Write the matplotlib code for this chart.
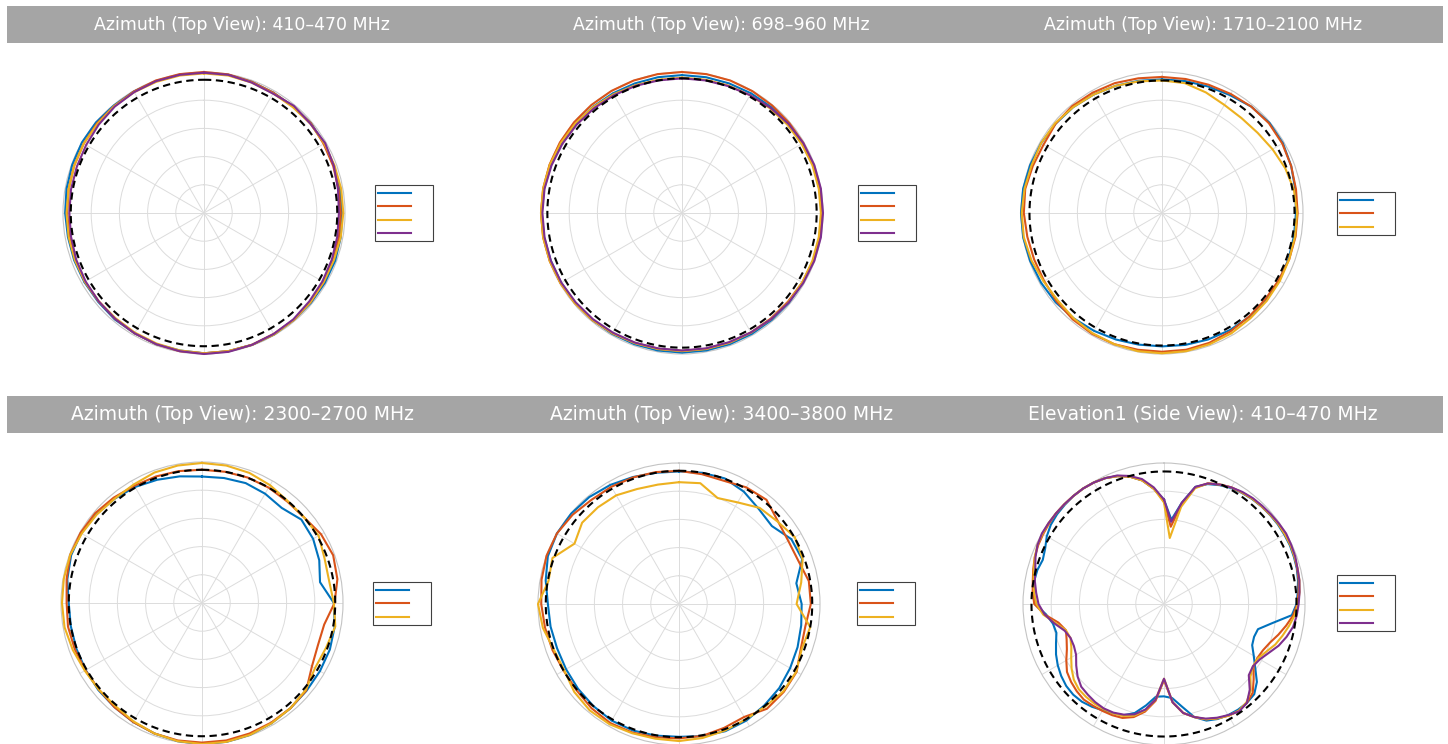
import numpy as np
import matplotlib
matplotlib.use("Agg")
import matplotlib.pyplot as plt
from matplotlib.lines import Line2D
from matplotlib.patches import Rectangle

# ---------------------------------------------------------------- data
TITLES = [
    "Azimuth (Top View): 410–470 MHz",
    "Azimuth (Top View): 698–960 MHz",
    "Azimuth (Top View): 1710–2100 MHz",
    "Azimuth (Top View): 2300–2700 MHz",
    "Azimuth (Top View): 3400–3800 MHz",
    "Elevation1 (Side View): 410–470 MHz",
]

# angles in degrees, clockwise from the top
ANG10 = list(range(0, 360, 10))
ANG5 = list(range(0, 360, 5))

# normalised pattern level of the dashed reference circle per panel
REF_LEVEL = [0.945, 0.955, 0.940, 0.945, 0.945, 0.940]

P1_BLUE = [0.995, 0.995, 0.990, 0.985, 0.985, 0.990, 0.985, 0.980, 0.978,
           0.980, 0.985, 0.990, 0.990, 0.990, 0.990, 0.995, 0.995, 0.995,
           0.995, 0.990, 0.990, 0.985, 0.985, 0.980, 0.980, 0.980, 0.980,
           0.985, 0.990, 0.995, 1.000, 1.000, 0.995, 0.995, 0.995, 0.995]
P1_ORANGE = [1.000, 0.998, 0.990, 0.985, 0.985, 0.990, 0.980, 0.975, 0.970,
             0.970, 0.972, 0.975, 0.980, 0.985, 0.990, 0.990, 0.995, 0.995,
             0.995, 0.995, 0.990, 0.985, 0.980, 0.975, 0.975, 0.970, 0.970,
             0.970, 0.975, 0.980, 0.985, 0.990, 0.990, 0.995, 1.000, 1.000]
P1_YELLOW = [0.990, 0.990, 0.985, 0.980, 0.980, 0.985, 0.985, 0.985, 0.988,
             0.988, 0.985, 0.980, 0.980, 0.985, 0.990, 0.995, 0.995, 0.995,
             0.995, 0.990, 0.985, 0.980, 0.975, 0.975, 0.975, 0.975, 0.975,
             0.975, 0.975, 0.980, 0.985, 0.985, 0.990, 0.990, 0.990, 0.990]
P1_PURPLE = [0.995, 0.995, 0.985, 0.978, 0.992, 0.985, 0.992, 0.980, 0.965,
             0.957, 0.960, 0.965, 0.970, 0.975, 0.985, 0.990, 0.995, 1.000,
             1.000, 0.995, 0.990, 0.985, 0.980, 0.975, 0.970, 0.965, 0.958,
             0.955, 0.958, 0.960, 0.965, 0.975, 0.985, 0.990, 0.995, 0.995]

P2_BLUE = [0.978, 0.978, 0.978, 0.980, 0.982, 0.985, 0.988, 0.990, 0.990,
           0.990, 0.990, 0.990, 0.990, 0.990, 0.990, 0.990, 0.990, 0.990,
           0.990, 0.990, 0.990, 0.990, 0.990, 0.990, 0.990, 0.990, 0.993,
           0.995, 0.993, 0.990, 0.988, 0.985, 0.983, 0.980, 0.978, 0.978]
P2_ORANGE = [1.000, 1.000, 1.000, 0.998, 0.995, 0.993, 0.993, 0.993, 0.995,
             0.995, 0.993, 0.990, 0.985, 0.980, 0.978, 0.978, 0.978, 0.978,
             0.978, 0.978, 0.980, 0.985, 0.990, 0.993, 0.995, 0.998, 1.000,
             1.000, 1.000, 1.000, 1.000, 1.000, 1.000, 1.000, 1.000, 1.000]
P2_YELLOW = [0.960, 0.960, 0.962, 0.965, 0.970, 0.975, 0.980, 0.985, 0.985,
             0.985, 0.985, 0.985, 0.985, 0.985, 0.983, 0.980, 0.980, 0.980,
             0.980, 0.980, 0.982, 0.985, 0.990, 0.993, 0.995, 0.998, 1.000,
             1.000, 1.000, 0.998, 0.993, 0.988, 0.980, 0.972, 0.965, 0.960]
P2_PURPLE = [0.955, 0.955, 0.958, 0.965, 0.975, 0.985, 0.993, 0.998, 1.000,
             1.000, 1.000, 0.998, 0.993, 0.988, 0.983, 0.978, 0.975, 0.975,
             0.975, 0.975, 0.978, 0.980, 0.983, 0.985, 0.988, 0.990, 0.990,
             0.990, 0.990, 0.985, 0.980, 0.975, 0.970, 0.965, 0.960, 0.955]

P3_BLUE = [0.948, 0.950, 0.955, 0.965, 0.985, 0.995, 0.990, 0.975, 0.960,
           0.950, 0.950, 0.955, 0.960, 0.962, 0.962, 0.960, 0.955, 0.950,
           0.946, 0.948, 0.955, 0.965, 0.975, 0.985, 0.990, 0.995, 1.000,
           1.000, 1.000, 0.995, 0.990, 0.985, 0.980, 0.970, 0.960, 0.952]
P3_ORANGE = [0.965, 0.965, 0.968, 0.975, 0.985, 0.990, 0.985, 0.975, 0.965,
             0.962, 0.962, 0.960, 0.955, 0.955, 0.960, 0.970, 0.980, 0.985,
             0.984, 0.985, 0.990, 0.990, 0.985, 0.975, 0.965, 0.965, 0.970,
             0.980, 0.985, 0.975, 0.970, 0.985, 0.990, 0.985, 0.980, 0.970]
P3_YELLOW = [0.940, 0.935, 0.910, 0.885, 0.878, 0.885, 0.905, 0.930, 0.950,
             0.958, 0.958, 0.960, 0.965, 0.970, 0.975, 0.985, 0.990, 0.995,
             0.995, 0.995, 0.990, 0.985, 0.975, 0.965, 0.970, 0.985, 0.995,
             0.995, 0.990, 0.985, 0.990, 0.990, 0.980, 0.970, 0.960, 0.948]

P4_BLUE = [0.897, 0.900, 0.905, 0.895, 0.880, 0.920, 0.910, 0.885, 0.850,
           0.935, 0.956, 0.965, 0.966, 0.968, 0.975, 0.985, 0.995, 1.000,
           1.000, 0.995, 0.985, 0.975, 0.965, 0.960, 0.952, 0.948, 0.945,
           0.945, 0.970, 0.988, 0.990, 0.980, 0.965, 0.950, 0.930, 0.912]
P4_ORANGE = [0.945, 0.945, 0.947, 0.945, 0.940, 0.945, 0.975, 0.990, 0.975,
             0.940, 0.880, 0.875, 0.900, 0.965, 0.975, 0.980, 0.985, 0.990,
             0.990, 0.990, 0.985, 0.975, 0.965, 0.955, 0.955, 0.960, 0.965,
             0.960, 0.975, 0.995, 0.995, 0.990, 0.975, 0.960, 0.955, 0.950]
P4_YELLOW = [0.993, 0.990, 0.982, 0.965, 0.945, 0.945, 0.955, 0.925, 0.915,
             0.935, 0.960, 0.935, 0.925, 0.960, 0.975, 0.985, 0.995, 1.000,
             1.000, 0.995, 0.985, 0.970, 0.955, 0.955, 0.960, 0.975, 0.990,
             0.993, 0.995, 0.995, 0.985, 0.975, 0.965, 0.970, 0.985, 0.990]

P5_BLUE = [0.940, 0.945, 0.948, 0.920, 0.880, 0.860, 0.920, 0.930, 0.845,
           0.870, 0.880, 0.895, 0.910, 0.928, 0.940, 0.955, 0.960, 0.952,
           0.942, 0.948, 0.955, 0.955, 0.945, 0.935, 0.925, 0.920, 0.925,
           0.930, 0.960, 0.990, 1.000, 0.998, 0.990, 0.975, 0.958, 0.945]
P5_ORANGE = [0.944, 0.935, 0.930, 0.955, 0.965, 0.915, 0.895, 0.900, 0.935,
             0.935, 0.910, 0.920, 0.963, 0.970, 0.970, 0.925, 0.935, 0.950,
             0.953, 0.960, 0.970, 0.975, 0.965, 0.950, 0.945, 0.955, 0.965,
             0.977, 0.990, 1.000, 1.000, 0.985, 0.965, 0.960, 0.955, 0.950]
P5_YELLOW = [0.864, 0.870, 0.800, 0.832, 0.890, 0.911, 0.948, 0.933, 0.880,
             0.834, 0.945, 0.927, 0.960, 0.965, 0.950, 0.945, 0.955, 0.965,
             0.972, 0.970, 0.975, 0.985, 0.985, 0.970, 0.940, 0.945, 0.980,
             1.000, 0.940, 0.955, 0.856, 0.897, 0.895, 0.890, 0.868, 0.860]

P6_BLUE = [0.740, 0.600, 0.730, 0.860, 0.905, 0.930, 0.950, 0.962, 0.972,
           0.978, 0.982, 0.985, 0.985, 0.985, 0.980, 0.975, 0.965, 0.952,
           0.940, 0.910, 0.780, 0.690, 0.680, 0.690, 0.735, 0.790, 0.860,
           0.905, 0.915, 0.915, 0.910, 0.900, 0.880, 0.830, 0.740, 0.670,
           0.655, 0.660, 0.730, 0.800, 0.840, 0.855, 0.870, 0.890, 0.905,
           0.910, 0.905, 0.890, 0.870, 0.845, 0.815, 0.790, 0.800, 0.840,
           0.915, 0.930, 0.935, 0.930, 0.915, 0.930, 0.960, 0.980, 0.990,
           0.995, 1.000, 1.000, 0.995, 0.985, 0.965, 0.935, 0.890, 0.820]
P6_ORANGE = [0.730, 0.550, 0.720, 0.855, 0.910, 0.935, 0.955, 0.965, 0.975,
             0.980, 0.985, 0.990, 0.990, 0.990, 0.985, 0.978, 0.970, 0.958,
             0.945, 0.920, 0.880, 0.840, 0.800, 0.775, 0.765, 0.775, 0.830,
             0.890, 0.915, 0.925, 0.915, 0.895, 0.870, 0.830, 0.785, 0.700,
             0.540, 0.690, 0.775, 0.830, 0.860, 0.870, 0.875, 0.880, 0.885,
             0.875, 0.860, 0.840, 0.800, 0.760, 0.735, 0.720, 0.760, 0.850,
             0.920, 0.935, 0.945, 0.960, 0.975, 0.985, 0.990, 0.995, 1.000,
             1.000, 1.000, 1.000, 0.995, 0.985, 0.965, 0.935, 0.890, 0.820]
P6_YELLOW = [0.720, 0.470, 0.700, 0.850, 0.910, 0.935, 0.955, 0.965, 0.975,
             0.980, 0.985, 0.990, 0.990, 0.990, 0.985, 0.980, 0.975, 0.965,
             0.950, 0.930, 0.900, 0.870, 0.840, 0.800, 0.770, 0.770, 0.800,
             0.870, 0.910, 0.925, 0.915, 0.895, 0.870, 0.830, 0.785, 0.700,
             0.530, 0.680, 0.765, 0.820, 0.845, 0.855, 0.860, 0.862, 0.860,
             0.855, 0.835, 0.800, 0.760, 0.725, 0.706, 0.720, 0.780, 0.860,
             0.905, 0.925, 0.940, 0.955, 0.975, 0.990, 0.995, 1.000, 1.000,
             1.000, 1.000, 1.000, 0.995, 0.985, 0.965, 0.935, 0.890, 0.820]
P6_PURPLE = [0.740, 0.585, 0.730, 0.860, 0.910, 0.935, 0.955, 0.970, 0.980,
             0.985, 0.990, 0.995, 1.000, 0.995, 0.990, 0.980, 0.975, 0.965,
             0.955, 0.945, 0.930, 0.900, 0.865, 0.820, 0.785, 0.770, 0.785,
             0.860, 0.915, 0.930, 0.910, 0.890, 0.865, 0.830, 0.785, 0.700,
             0.530, 0.680, 0.760, 0.810, 0.835, 0.850, 0.855, 0.850, 0.840,
             0.830, 0.800, 0.760, 0.720, 0.705, 0.705, 0.730, 0.790, 0.850,
             0.890, 0.910, 0.930, 0.945, 0.970, 0.990, 1.000, 1.000, 1.000,
             1.000, 1.000, 1.000, 0.995, 0.985, 0.970, 0.940, 0.900, 0.830]

PANEL_ANGLES = [ANG10, ANG10, ANG10, ANG10, ANG10, ANG5]
PANEL_SERIES = [
    [P1_BLUE, P1_ORANGE, P1_YELLOW, P1_PURPLE],
    [P2_BLUE, P2_ORANGE, P2_YELLOW, P2_PURPLE],
    [P3_BLUE, P3_ORANGE, P3_YELLOW],
    [P4_BLUE, P4_ORANGE, P4_YELLOW],
    [P5_BLUE, P5_ORANGE, P5_YELLOW],
    [P6_BLUE, P6_ORANGE, P6_YELLOW, P6_PURPLE],
]

# ---------------------------------------------------------------- style
COLORS = ["#0072BD", "#D95319", "#EDB120", "#7E2F8E"]
W, H, DPI = 1448, 744, 100

# pixel layout: polar centres, radius, legend corners, banners
CENTERS = [(204, 213), (682, 213), (1162, 213),
           (202, 603), (679, 604), (1164, 604)]
RADIUS = 141
LEGEND_CORNERS = [(375, 185), (858, 185), (1337, 192),
                  (373, 582), (857, 582), (1337, 575)]
BANNERS = [(6, 43), (396, 433)]
TITLE_X = [242, 721, 1203]
TITLE_SIZE = [12.5, 13.5]

fig = plt.figure(figsize=(W / DPI, H / DPI), dpi=DPI, facecolor="white")

# grey title banners
for top, bot in BANNERS:
    fig.add_artist(Rectangle((7 / W, 1 - bot / H), (1443 - 7) / W, (bot - top) / H,
                             transform=fig.transFigure, facecolor="#a5a5a5",
                             edgecolor="none", zorder=0))

for i, title in enumerate(TITLES):
    row, col = divmod(i, 3)
    top, bot = BANNERS[row]
    fig.text(TITLE_X[col] / W, 1 - (top + bot) / 2 / H, title,
             ha="center", va="center", color="white", fontsize=TITLE_SIZE[row],
             family="DejaVu Sans")

for i in range(6):
    cx, cy = CENTERS[i]
    ax = fig.add_axes([(cx - RADIUS) / W, (H - cy - RADIUS) / H,
                       2 * RADIUS / W, 2 * RADIUS / H], projection="polar")
    ax.set_theta_zero_location("N")
    ax.set_theta_direction(-1)
    ax.set_ylim(0, 1.0)
    ax.set_yticks([0.2, 0.4, 0.6, 0.8])
    ax.set_yticklabels([])
    ax.set_xticks(np.deg2rad(np.arange(0, 360, 30)))
    ax.set_xticklabels([])
    ax.tick_params(length=0)
    ax.grid(True, color="#dcdcdc", linewidth=0.7)
    ax.spines["polar"].set_color("#c4c4c4")
    ax.spines["polar"].set_linewidth(0.8)
    ax.set_facecolor("white")

    ang = np.deg2rad(np.append(PANEL_ANGLES[i], 360))
    handles = []
    for k, vals in enumerate(PANEL_SERIES[i]):
        r = np.append(vals, vals[0])
        ax.plot(ang, r, color=COLORS[k], linewidth=1.5, clip_on=False,
                zorder=3 + k)
        handles.append(Line2D([], [], color=COLORS[k], linewidth=1.5))

    ref_theta = np.linspace(0, 2 * np.pi, 361)
    ax.plot(ref_theta, np.full_like(ref_theta, REF_LEVEL[i]), color="black",
            linestyle=(0, (3.5, 2.2)), linewidth=1.5, zorder=8)

    lx, ly = LEGEND_CORNERS[i]
    leg = fig.legend(handles, [""] * len(handles), loc="upper left",
                     bbox_to_anchor=(lx / W, 1 - ly / H),
                     bbox_transform=fig.transFigure, borderaxespad=0,
                     frameon=True, fancybox=False, fontsize=7,
                     handlelength=3.4, handletextpad=2.0, borderpad=0.3,
                     labelspacing=0.36)
    frame = leg.get_frame()
    frame.set_edgecolor("#404040")
    frame.set_linewidth(0.8)
    frame.set_alpha(1)

fig.savefig("out.png", dpi=DPI, facecolor="white")
